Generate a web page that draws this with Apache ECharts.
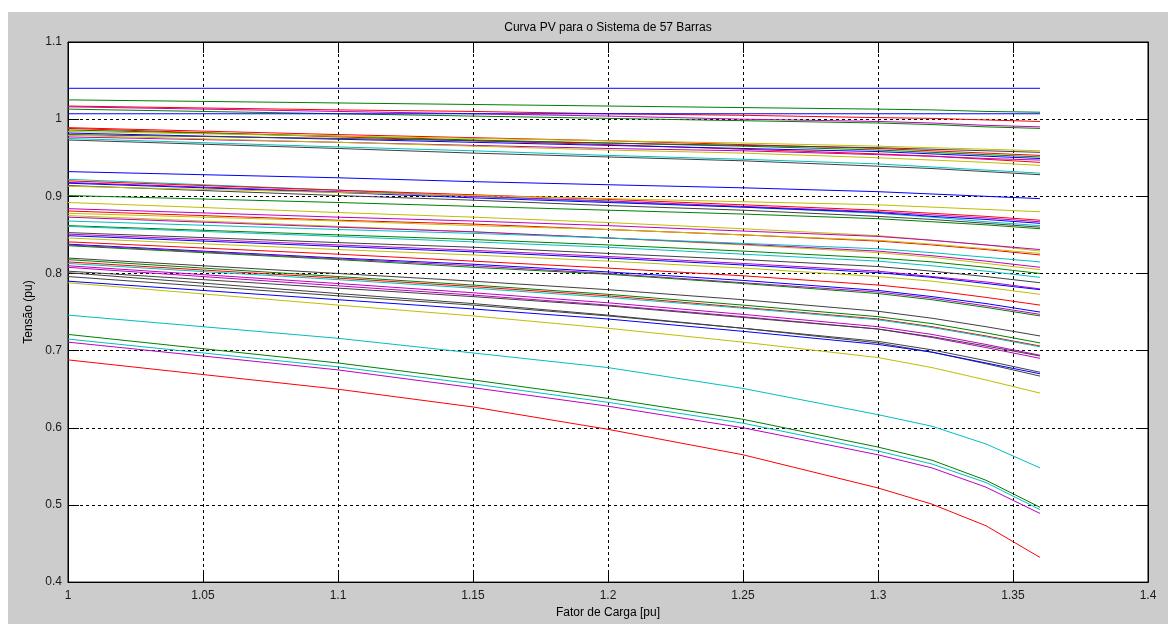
<!DOCTYPE html>
<html>
<head>
<meta charset="utf-8">
<script src="https://cdn.jsdelivr.net/npm/echarts@6/dist/echarts.min.js"></script>
<style>
  html, body { margin: 0; padding: 0; background: #ffffff; }
  #bg { position: absolute; left: 8px; top: 12px; width: 1160px; height: 612px; background: #cccccc; }
  #chart { position: absolute; left: 0; top: 0; width: 1168px; height: 624px; }
</style>
</head>
<body>
<div id="bg"></div>
<div id="chart"></div>
<script>
// Load factor sample points (x axis, pu)
const loadFactor = [1, 1.1, 1.15, 1.2, 1.25, 1.3, 1.32, 1.34, 1.36];

// Axis ticks
const xTicks = [1, 1.05, 1.1, 1.15, 1.2, 1.25, 1.3, 1.35, 1.4];
const yTicks = [0.4, 0.5, 0.6, 0.7, 0.8, 0.9, 1, 1.1];

// Bus voltages (pu) at each load factor
const bus01 = [1.040,1.040,1.040,1.040,1.040,1.040,1.040,1.040,1.040];
const bus02 = [1.025,1.021,1.019,1.017,1.015,1.013,1.012,1.010,1.009];
const bus03 = [1.017,1.012,1.010,1.007,1.005,1.002,1.001,0.999,0.997];
const bus04 = [1.016,1.010,1.007,1.004,1.000,0.997,0.995,0.992,0.990];
const bus05 = [1.013,1.007,1.004,1.001,0.998,0.995,0.993,0.990,0.988];
const bus06 = [1.007,1.007,1.007,1.007,1.007,1.007,1.007,1.007,1.007];
const bus07 = [0.989,0.980,0.976,0.972,0.967,0.962,0.959,0.956,0.953];
const bus08 = [0.988,0.977,0.972,0.967,0.961,0.955,0.952,0.948,0.944];
const bus09 = [0.986,0.978,0.973,0.969,0.965,0.960,0.957,0.954,0.951];
const bus10 = [0.984,0.978,0.975,0.972,0.969,0.965,0.963,0.961,0.959];
const bus11 = [0.982,0.974,0.970,0.966,0.962,0.958,0.955,0.952,0.949];
const bus12 = [0.980,0.975,0.972,0.969,0.966,0.963,0.961,0.959,0.957];
const bus13 = [0.977,0.970,0.966,0.962,0.959,0.954,0.952,0.949,0.947];
const bus14 = [0.979,0.970,0.965,0.960,0.956,0.950,0.947,0.944,0.940];
const bus15 = [0.975,0.964,0.959,0.953,0.948,0.942,0.938,0.934,0.930];
const bus16 = [0.973,0.962,0.956,0.951,0.946,0.939,0.936,0.932,0.928];
const bus17 = [0.932,0.924,0.919,0.915,0.911,0.906,0.903,0.900,0.897];
const bus18 = [0.922,0.908,0.900,0.893,0.886,0.878,0.873,0.867,0.862];
const bus19 = [0.920,0.908,0.902,0.896,0.889,0.882,0.878,0.874,0.869];
const bus20 = [0.918,0.906,0.900,0.894,0.887,0.880,0.876,0.872,0.867];
const bus21 = [0.917,0.905,0.898,0.892,0.886,0.879,0.874,0.870,0.865];
const bus22 = [0.914,0.901,0.895,0.888,0.882,0.874,0.870,0.865,0.860];
const bus23 = [0.913,0.905,0.901,0.897,0.893,0.889,0.886,0.883,0.880];
const bus24 = [0.901,0.892,0.887,0.882,0.877,0.871,0.867,0.863,0.858];
const bus25 = [0.892,0.879,0.873,0.866,0.858,0.849,0.843,0.837,0.829];
const bus26 = [0.884,0.873,0.868,0.862,0.855,0.848,0.843,0.837,0.831];
const bus27 = [0.881,0.869,0.864,0.857,0.850,0.842,0.837,0.831,0.824];
const bus28 = [0.878,0.868,0.862,0.857,0.850,0.843,0.838,0.832,0.826];
const bus29 = [0.875,0.861,0.854,0.846,0.837,0.827,0.821,0.813,0.805];
const bus30 = [0.873,0.860,0.854,0.846,0.838,0.829,0.823,0.816,0.808];
const bus31 = [0.868,0.857,0.852,0.846,0.839,0.832,0.827,0.821,0.815];
const bus32 = [0.862,0.850,0.844,0.837,0.829,0.820,0.815,0.808,0.800];
const bus33 = [0.861,0.848,0.841,0.834,0.825,0.816,0.810,0.803,0.795];
const bus34 = [0.853,0.840,0.834,0.826,0.818,0.809,0.803,0.796,0.788];
const bus35 = [0.851,0.837,0.830,0.822,0.813,0.803,0.796,0.789,0.780];
const bus36 = [0.849,0.835,0.828,0.820,0.811,0.801,0.795,0.787,0.779];
const bus37 = [0.846,0.831,0.824,0.816,0.807,0.796,0.790,0.782,0.773];
const bus38 = [0.841,0.825,0.816,0.807,0.797,0.785,0.778,0.769,0.759];
const bus39 = [0.838,0.820,0.812,0.802,0.791,0.778,0.770,0.761,0.750];
const bus40 = [0.837,0.819,0.810,0.800,0.788,0.776,0.768,0.758,0.747];
const bus41 = [0.836,0.818,0.808,0.799,0.787,0.774,0.766,0.756,0.745];
const bus42 = [0.820,0.800,0.790,0.779,0.766,0.751,0.742,0.731,0.719];
const bus43 = [0.818,0.796,0.785,0.773,0.759,0.744,0.735,0.723,0.710];
const bus44 = [0.815,0.794,0.783,0.771,0.756,0.741,0.731,0.719,0.706];
const bus45 = [0.813,0.792,0.781,0.769,0.755,0.740,0.730,0.718,0.705];
const bus46 = [0.810,0.787,0.775,0.762,0.747,0.731,0.721,0.708,0.694];
const bus47 = [0.808,0.784,0.772,0.759,0.744,0.728,0.717,0.704,0.690];
const bus48 = [0.803,0.781,0.770,0.758,0.743,0.728,0.718,0.706,0.693];
const bus49 = [0.801,0.774,0.761,0.746,0.729,0.710,0.698,0.683,0.667];
const bus50 = [0.796,0.771,0.759,0.745,0.729,0.712,0.701,0.687,0.672];
const bus51 = [0.790,0.766,0.754,0.741,0.725,0.708,0.698,0.684,0.670];
const bus52 = [0.788,0.759,0.745,0.729,0.711,0.691,0.678,0.662,0.645];
const bus53 = [0.746,0.716,0.697,0.678,0.651,0.617,0.602,0.579,0.548];
const bus54 = [0.721,0.684,0.662,0.638,0.611,0.575,0.558,0.532,0.497];
const bus55 = [0.715,0.679,0.657,0.633,0.606,0.570,0.553,0.529,0.494];
const bus56 = [0.711,0.675,0.652,0.628,0.600,0.565,0.548,0.523,0.489];
const bus57 = [0.688,0.650,0.627,0.598,0.565,0.522,0.501,0.473,0.432];

// Line colour code of each bus curve (MATLAB style letters)
const busColorCodes = ['b','g','r','m','g','b','r','r','g','y','b','k','m','y','c','k',
  'b','c','r','m','b','k','y','g','y','m','r','y','y','m','c','g','c',
  'k','m','b','y','r','b','m','g','k','g','r','c','m','m','k','k','k','b','y',
  'c','g','c','m','r'];

const buses = [bus01,bus02,bus03,bus04,bus05,bus06,bus07,bus08,bus09,bus10,
  bus11,bus12,bus13,bus14,bus15,bus16,bus17,bus18,bus19,bus20,
  bus21,bus22,bus23,bus24,bus25,bus26,bus27,bus28,bus29,bus30,
  bus31,bus32,bus33,bus34,bus35,bus36,bus37,bus38,bus39,bus40,
  bus41,bus42,bus43,bus44,bus45,bus46,bus47,bus48,bus49,bus50,
  bus51,bus52,bus53,bus54,bus55,bus56,bus57];

const palette = { b:'#0000ff', g:'#008000', r:'#ff0000', c:'#00bfbf', m:'#bf00bf', y:'#bfbf00', k:'#404040' };

const FONT = "'Liberation Sans', Arial, Helvetica, sans-serif";

const series = buses.map((v, i) => ({
  type: 'line',
  name: 'Barra ' + (i + 1),
  data: loadFactor.map((x, j) => [x, v[j]]),
  showSymbol: false,
  symbol: 'none',
  lineStyle: { width: 1, color: palette[busColorCodes[i]] },
  itemStyle: { color: palette[busColorCodes[i]] },
  emphasis: { disabled: true },
  animation: false,
  z: 3
}));

const gridLine = { show: true, lineStyle: { color: '#000', type: [3, 3], width: 1 } };
const labelStyle = { color: '#1a1a1a', fontSize: 12, fontFamily: FONT };

const chart = echarts.init(document.getElementById('chart'), null, { renderer: 'canvas' });
chart.setOption({
  animation: false,
  backgroundColor: 'transparent',
  title: {
    text: 'Curva PV para o Sistema de 57 Barras',
    left: 608, top: 22, textAlign: 'center', padding: 0,
    textStyle: { fontSize: 12, fontWeight: 'normal', color: '#000', fontFamily: FONT }
  },
  grid: {
    left: 68, top: 42, right: 20, bottom: 41,
    show: true, backgroundColor: '#ffffff', borderColor: '#000', borderWidth: 1
  },
  xAxis: [{
    type: 'value', min: xTicks[0], max: xTicks[xTicks.length - 1], interval: 0.05,
    position: 'bottom',
    name: 'Fator de Carga [pu]', nameLocation: 'middle', nameGap: 21,
    nameTextStyle: { color: '#000', fontSize: 12, fontFamily: FONT },
    axisLine: { show: true, lineStyle: { color: '#000', width: 1 } },
    axisTick: { show: true, inside: true, length: 11, lineStyle: { color: '#000' } },
    axisLabel: Object.assign({ margin: 8, showMinLabel: true, showMaxLabel: true,
      formatter: v => String(+v.toFixed(2)) }, labelStyle),
    splitLine: gridLine
  }, {
    type: 'value', min: xTicks[0], max: xTicks[xTicks.length - 1], interval: 0.05,
    position: 'top',
    axisLine: { show: true, lineStyle: { color: '#000', width: 1 } },
    axisTick: { show: true, inside: true, length: 11, lineStyle: { color: '#000' } },
    axisLabel: { show: false },
    splitLine: { show: false }
  }],
  yAxis: [{
    type: 'value', min: yTicks[0], max: yTicks[yTicks.length - 1], interval: 0.1,
    position: 'left',
    name: 'Tensão (pu)', nameLocation: 'middle', nameGap: 32,
    nameTextStyle: { color: '#000', fontSize: 12, fontFamily: FONT },
    axisLine: { show: true, lineStyle: { color: '#000', width: 1 } },
    axisTick: { show: true, inside: true, length: 11, lineStyle: { color: '#000' } },
    axisLabel: Object.assign({ margin: 6, showMinLabel: true, showMaxLabel: true,
      formatter: v => String(+v.toFixed(2)) }, labelStyle),
    splitLine: gridLine
  }, {
    type: 'value', min: yTicks[0], max: yTicks[yTicks.length - 1], interval: 0.1,
    position: 'right',
    axisLine: { show: true, lineStyle: { color: '#000', width: 1 } },
    axisTick: { show: true, inside: true, length: 11, lineStyle: { color: '#000' } },
    axisLabel: { show: false },
    splitLine: { show: false }
  }],
  series: series
});
</script>
</body>
</html>
